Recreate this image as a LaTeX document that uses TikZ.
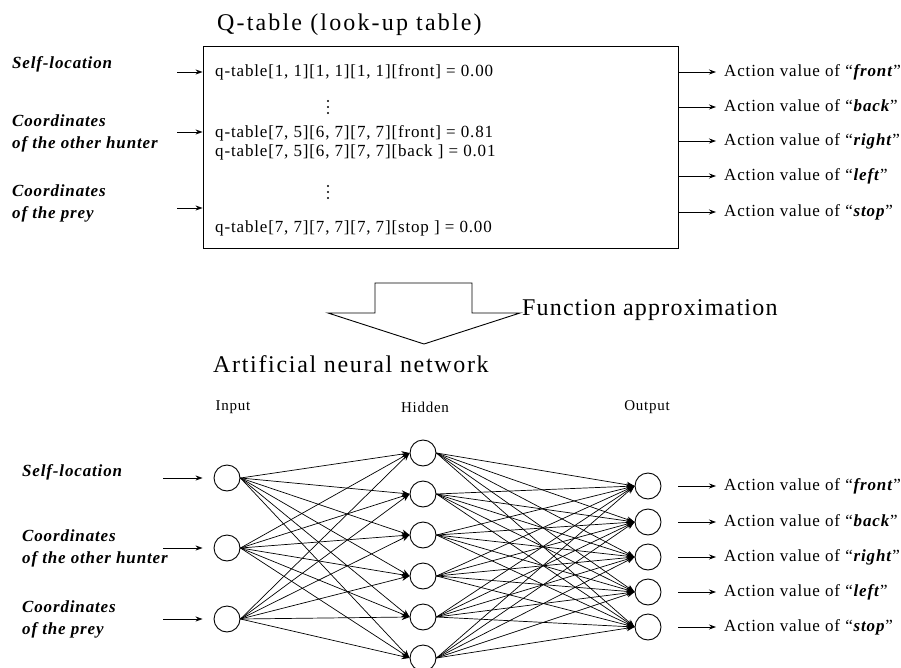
\documentclass[tikz,border=0pt]{standalone}
\usepackage{fontspec}
\setmainfont{Liberation Serif}[LetterSpace=5]
\usetikzlibrary{arrows.meta}

\begin{document}
\begin{tikzpicture}[x=1pt,y=-1pt,
  txt/.style={font=\fontsize{17}{20}\selectfont, inner sep=0pt, anchor=mid west, yshift=-2pt},
  big/.style={font=\fontsize{24}{28}\selectfont, inner sep=0pt, anchor=mid west},
  small/.style={font=\fontsize{15}{18}\selectfont, inner sep=0pt},
  lbl/.style={font=\fontsize{17}{22}\selectfont\bfseries\itshape, inner sep=0pt, anchor=west, align=left},
  neuron/.style={circle, draw, line width=0.9pt, minimum size=26pt, inner sep=0pt},
  dotmark/.style={circle, fill, inner sep=0pt, minimum size=2.4pt},
  tip/.style={-{Stealth[length=7pt,width=5pt]}, line width=0.8pt},
  edge/.style={-{Stealth[length=8pt,width=6pt]}, line width=0.7pt},
  ]
\useasboundingbox (0,0) rectangle (901,668);

% ---------- Q-table ----------
\node[big, font=\fontsize{24}{28}\selectfont\addfontfeatures{LetterSpace=9}] (qtitle) at (217,28) {Q-table (look-up table)};
\node[draw, line width=0.9pt, inner sep=0pt, minimum width=475pt, minimum height=202pt] (qtab) at (440.5,147) {};

\node[txt] (r1) at (215,72)  {q-table[1, 1][1, 1][1, 1][front] = 0.00};
\node[txt] (r3) at (215,133) {q-table[7, 5][6, 7][7, 7][front] = 0.81};
\node[txt] (r4) at (215,152) {q-table[7, 5][6, 7][7, 7][back ] = 0.01};
\node[txt] (r6) at (215,228) {q-table[7, 7][7, 7][7, 7][stop ] = 0.00};

% vertical ellipses between the rows
\foreach \y in {101,107,113,186,192,198} \node[dotmark] at (328,\y) {};

% inputs of the table
\node[lbl] (ts) at (12,64) {Self-location};
\node[lbl] (th) at (12,133) {Coordinates\\of the other hunter};
\node[lbl] (tp) at (12,203.5) {Coordinates\\of the prey};
\coordinate (ta1) at (177,72);
\coordinate (ta2) at (177,132);
\coordinate (ta3) at (177,208);
\foreach \k in {1,2,3} \draw[tip] (ta\k) -- (ta\k -| qtab.west);

% outputs of the table
\foreach \k/\y/\w in {1/72/front, 2/107/back, 3/141/right, 4/176/left, 5/212/stop} {
  \node[txt] (tq\k) at (724,\y) {Action value of “\textbf{\textit{\w}}”};
  \coordinate (tqa\k) at (716,\y);
  \draw[tip] (tqa\k -| qtab.east) -- (tqa\k);
}

% ---------- block arrow ----------
\draw[line width=0.9pt, line join=miter]
  (375,283) -- (472,283) -- (472,313) -- (520,313) -- (424,344)
  -- (328,313) -- (375,313) -- cycle;
\node[big] (fa) at (522,313) {Function approximation};

% ---------- neural network ----------
\node[big, font=\fontsize{24}{28}\selectfont\addfontfeatures{LetterSpace=7}] (anntitle) at (213,370) {Artificial neural network};
\node[small] (lin)  at (233,407) {Input};
\node[small] (lhid) at (425,407) {Hidden};
\node[small] (lout) at (647,407) {Output};

\foreach \k/\y in {1/478, 2/548, 3/619} \node[neuron] (i\k) at (227,\y) {};
\foreach \k/\y in {1/453, 2/494, 3/535, 4/576, 5/617, 6/658} \node[neuron] (h\k) at (423,\y) {};
\foreach \k/\y in {1/486, 2/522, 3/557, 4/592, 5/627} \node[neuron] (o\k) at (648,\y) {};

\foreach \a in {1,2,3} \foreach \b in {1,...,6} \draw[edge] (i\a.east) -- (h\b.west);
\foreach \a in {1,...,6} \foreach \b in {1,...,5} \draw[edge] (h\a.east) -- (o\b.west);

% inputs of the network
\node[lbl] (ns) at (22,472) {Self-location};
\node[lbl] (nh) at (22,548.5) {Coordinates\\of the other hunter};
\node[lbl] (np) at (22,619) {Coordinates\\of the prey};
\foreach \k/\y in {1/478, 2/548, 3/619} {
  \coordinate (na\k) at (163,\y);
  \draw[tip] (na\k) -- ([xshift=-11pt]i\k.west);
}

% outputs of the network
\foreach \k/\y/\w in {1/486/front, 2/522/back, 3/557/right, 4/592/left, 5/627/stop} {
  \node[txt] (tn\k) at (724,\y) {Action value of “\textbf{\textit{\w}}”};
  \coordinate (tna\k) at (716,\y);
  \draw[tip] ([xshift=17pt]o\k.east) -- (tna\k);
}
\end{tikzpicture}
\end{document}
